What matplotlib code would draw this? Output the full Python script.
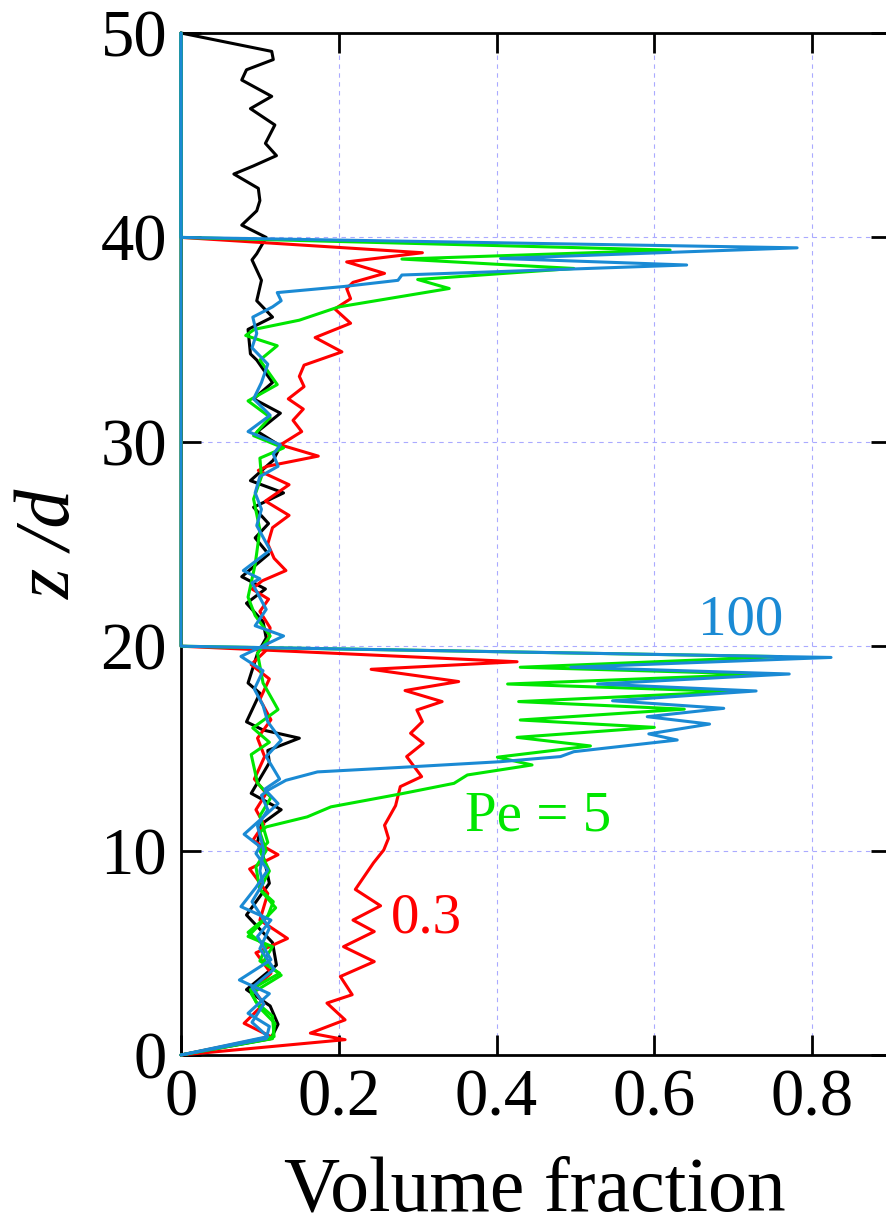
import matplotlib
matplotlib.use("Agg")
import matplotlib.pyplot as plt

plt.rcParams['font.family'] = ['Liberation Serif', 'DejaVu Serif']

# ---- data: (z/d, volume fraction) pairs ----
black = [(0, 0), (0.8, 0.114), (1.5, 0.123), (2.4, 0.113), (3.2, 0.083), (4.4, 0.121), (5.5, 0.116),
         (6.85, 0.083), (8.4, 0.112), (9.5, 0.106), (10.4, 0.097), (11.3, 0.102), (12.0, 0.127),
         (12.8, 0.089), (14.3, 0.112), (14.9, 0.110), (15.5, 0.150), (15.9, 0.104), (16.3, 0.083),
         (17.7, 0.100), (18.2, 0.085), (19.65, 0.097), (20.4, 0.108), (21.2, 0.104), (22.1, 0.083),
         (22.8, 0.107), (23.4, 0.077), (24.5, 0.111), (25.3, 0.094), (26.0, 0.111), (26.8, 0.092),
         (27.5, 0.130), (28.1, 0.088), (29.1, 0.117), (29.8, 0.126), (30.5, 0.097), (31.4, 0.126),
         (32.1, 0.092), (32.9, 0.116), (34.0, 0.096), (34.3, 0.088), (35.5, 0.085), (36.1, 0.116),
         (36.9, 0.096), (37.9, 0.102), (38.9, 0.090), (39.2, 0.096), (40.0, 0.108), (40.6, 0.077),
         (41.3, 0.096), (41.8, 0.100), (42.4, 0.098), (43.1, 0.067), (43.5, 0.092), (44.0, 0.121),
         (44.6, 0.107), (45.5, 0.119), (46.3, 0.088), (46.9, 0.115), (47.7, 0.077), (48.2, 0.083),
         (48.7, 0.117), (49.1, 0.115), (50.0, 0.0)]

red_short = [(0, 0), (0.75, 0.208), (1.07, 0.164), (1.72, 0.208), (2.54, 0.185), (2.95, 0.217),
             (3.84, 0.202), (4.57, 0.245), (5.3, 0.206), (6.04, 0.245), (6.6, 0.218), (7.3, 0.253),
             (8.1, 0.221), (9.4, 0.244), (10.03, 0.257), (10.6, 0.263), (11.24, 0.258), (12.2, 0.272),
             (13.13, 0.278), (13.62, 0.305), (14.6, 0.286), (15.25, 0.307), (15.74, 0.291),
             (16.31, 0.306), (16.88, 0.299), (17.29, 0.331), (17.83, 0.284), (18.27, 0.352),
             (18.87, 0.241), (19.24, 0.426), (20.0, 0.0), (50.0, 0.0)]

red_tall = [(0, 0), (0.9, 0.114), (1.55, 0.080), (2.5, 0.105), (3.2, 0.092), (4.0, 0.114), (5.0, 0.095),
            (5.7, 0.135), (6.6, 0.100), (7.9, 0.110), (9.1, 0.087), (9.8, 0.123), (10.5, 0.091),
            (11.3, 0.105), (12.0, 0.095), (12.8, 0.108), (13.5, 0.093), (14.6, 0.106), (15.5, 0.097),
            (16.4, 0.114), (17.4, 0.100), (18.4, 0.112), (19.1, 0.089), (19.8, 0.108), (20.9, 0.113),
            (21.7, 0.100), (22.3, 0.111), (22.8, 0.090), (23.2, 0.103), (23.7, 0.133), (24.3, 0.118),
            (25.0, 0.110), (25.8, 0.116), (26.4, 0.137), (27.1, 0.107), (27.9, 0.137), (28.6, 0.098),
            (28.8, 0.109), (29.3, 0.174), (29.85, 0.126), (30.5, 0.153), (31.05, 0.142), (31.6, 0.155),
            (32.1, 0.136), (32.7, 0.156), (33.2, 0.150), (33.75, 0.156), (34.4, 0.204), (35.1, 0.170),
            (35.8, 0.215), (36.5, 0.195), (37.0, 0.215), (37.5, 0.210), (37.8, 0.218), (38.24, 0.258),
            (38.8, 0.210), (39.25, 0.306), (40.0, 0.0), (50.0, 0.0)]

green_short = [(0, 0), (0.9, 0.118), (1.9, 0.116), (2.6, 0.095), (3.2, 0.088), (4.0, 0.125), (4.6, 0.100),
               (5.3, 0.108), (6.0, 0.085), (6.8, 0.110), (7.5, 0.117), (8.1, 0.100), (9.2, 0.095),
               (10.0, 0.108), (10.9, 0.100), (11.16, 0.108), (11.65, 0.160), (12.14, 0.190),
               (12.77, 0.278), (13.29, 0.346), (13.7, 0.363), (14.19, 0.445), (14.57, 0.401),
               (15.12, 0.519), (15.54, 0.426), (16.03, 0.600), (16.39, 0.430), (16.92, 0.638),
               (17.29, 0.428), (17.78, 0.701), (18.15, 0.414), (18.63, 0.737), (18.97, 0.430),
               (19.49, 0.761), (20.0, 0.0), (50.0, 0.0)]

green_tall = [(0, 0), (0.8, 0.116), (1.55, 0.119), (2.3, 0.100), (3.0, 0.089), (3.9, 0.127), (4.6, 0.105),
              (5.3, 0.116), (5.8, 0.085), (7.2, 0.120), (8.1, 0.100), (9.0, 0.112), (10.0, 0.100),
              (10.4, 0.110), (11.7, 0.100), (12.6, 0.114), (13.3, 0.097), (14.7, 0.089), (15.3, 0.112),
              (16.0, 0.091), (16.9, 0.123), (18.2, 0.104), (19.65, 0.097), (20.5, 0.113), (21.5, 0.094),
              (22.4, 0.085), (24.0, 0.094), (25.7, 0.100), (27.2, 0.092), (28.3, 0.102), (29.2, 0.100),
              (29.7, 0.130), (30.3, 0.092), (31.2, 0.113), (32.0, 0.085), (32.8, 0.122), (34.0, 0.100),
              (34.7, 0.122), (35.2, 0.082), (35.5, 0.093), (35.95, 0.150), (36.6, 0.200), (37.5, 0.340),
              (37.94, 0.300), (38.48, 0.498), (38.94, 0.280), (39.38, 0.620), (40.0, 0.0), (50.0, 0.0)]

blue_tall = [(0, 0), (0.8, 0.108), (1.4, 0.112), (2.04, 0.085), (3.0, 0.112), (3.67, 0.074), (4.66, 0.114),
             (5.8, 0.097), (6.6, 0.114), (7.26, 0.076), (8.2, 0.095), (9.05, 0.110), (9.86, 0.095),
             (10.2, 0.100), (10.8, 0.080), (11.7, 0.106), (12.3, 0.123), (13.0, 0.106), (13.5, 0.125),
             (14.6, 0.108), (15.4, 0.127), (16.3, 0.110), (17.1, 0.104), (17.9, 0.093), (18.8, 0.104),
             (19.5, 0.076), (20.5, 0.130), (21.0, 0.094), (21.8, 0.108), (23.1, 0.090), (23.3, 0.100),
             (23.7, 0.079), (24.7, 0.113), (25.9, 0.096), (26.7, 0.102), (27.5, 0.094), (28.3, 0.100),
             (28.8, 0.123), (29.4, 0.117), (29.85, 0.126), (30.5, 0.085), (31.3, 0.113), (32.1, 0.092),
             (32.9, 0.102), (33.8, 0.110), (34.6, 0.090), (35.3, 0.096), (36.1, 0.091), (36.6, 0.116),
             (36.9, 0.127), (37.3, 0.122), (37.6, 0.207), (37.9, 0.275), (38.16, 0.280), (38.65, 0.641),
             (38.97, 0.405), (39.49, 0.781), (40.0, 0.0), (50.0, 0.0)]

blue_short = [(0, 0), (0.9, 0.110), (1.6, 0.090), (2.5, 0.105), (3.3, 0.090), (4.2, 0.118), (5.2, 0.100),
              (6.2, 0.112), (7.5, 0.090), (8.4, 0.104), (9.0, 0.100), (10.0, 0.105), (11.2, 0.097),
              (12.0, 0.110), (12.7, 0.102), (12.95, 0.110), (13.44, 0.133), (13.85, 0.173),
              (14.07, 0.278), (14.35, 0.405), (14.6, 0.481), (14.84, 0.498), (15.41, 0.629),
              (15.71, 0.593), (16.19, 0.670), (16.55, 0.591), (16.96, 0.688), (17.33, 0.547),
              (17.81, 0.729), (18.15, 0.528), (18.64, 0.771), (18.97, 0.494), (19.45, 0.824),
              (20.0, 0.0), (50.0, 0.0)]

x_ticks = [0, 0.2, 0.4, 0.6, 0.8]
x_tick_labels = ['0', '0.2', '0.4', '0.6', '0.8']
y_ticks = [0, 10, 20, 30, 40, 50]
y_tick_labels = ['0', '10', '20', '30', '40', '50']

labels = [('100', 0.709, 20.55), ('Pe = 5', 0.453, 11.0), ('0.3', 0.311, 5.97)]

# ---- styles ----
C_BLACK = '#000000'
C_RED = '#ff0000'
C_GREEN = '#00e600'
C_BLUE = '#1a8ad4'

fig = plt.figure(figsize=(8.87, 12.27), dpi=100)
ax = fig.add_axes([181 / 887, 1 - 1055 / 1227, (891.0 - 181) / 887, (1055 - 33) / 1227])

series = [(black, C_BLACK), (red_short, C_RED), (red_tall, C_RED),
          (green_short, C_GREEN), (green_tall, C_GREEN),
          (blue_tall, C_BLUE), (blue_short, C_BLUE)]
for data, col in series:
    zz = [p[0] for p in data]
    ff = [p[1] for p in data]
    ax.plot(ff, zz, color=col, lw=2.2, solid_joinstyle='round', solid_capstyle='round',
            zorder=3, clip_on=False)

ax.set_xlim(0, 0.9)
ax.set_ylim(0, 50)
ax.set_xticks(x_ticks)
ax.set_xticklabels(x_tick_labels)
ax.set_yticks(y_ticks)
ax.set_yticklabels(y_tick_labels)
ax.tick_params(direction='in', length=14.4, width=2.0, top=True, right=True,
               labelsize=48, pad=10)
ax.minorticks_off()
for s in ax.spines.values():
    s.set_linewidth(2.0)

ax.set_axisbelow(True)
ax.grid(True, color='#aaaaff', lw=0.8, linestyle=(0, (4, 4)))

for (txt, x, y), col in zip(labels, [C_BLUE, C_GREEN, C_RED]):
    ax.text(x, y, txt, color=col, fontsize=41, ha='center', va='baseline', zorder=4)

fig.text(535 / 887, 1 - 1210 / 1227, 'Volume fraction', fontsize=56, ha='center', va='baseline')
fig.text(52 / 887, 1 - 544 / 1227, 'z /d', fontsize=56, style='italic', rotation=90,
         ha='center', va='center')

fig.savefig('out.png', dpi=100)
